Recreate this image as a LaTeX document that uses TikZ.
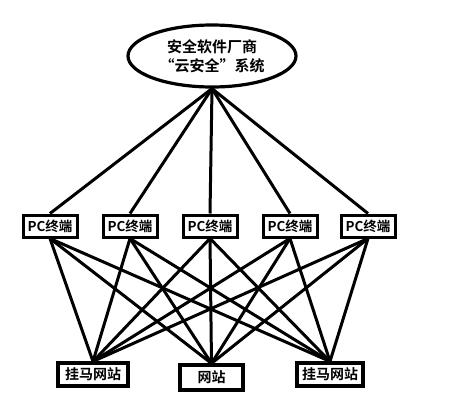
\documentclass[tikz,border=0pt]{standalone}
\usepackage{fontspec}
\newfontfamily\cjk{Noto Sans CJK SC}[BoldFont={Noto Sans CJK SC Bold}]
\usetikzlibrary{shapes.geometric}
\begin{document}
\begin{tikzpicture}[x=1pt,y=-1pt,
  conn/.style={line width=3pt},
  cloud/.style={ellipse,draw,line width=3.2pt,minimum width=168pt,minimum height=62pt,inner sep=0pt,align=center,font=\cjk\bfseries\fontsize{15pt}{19pt}\selectfont},
  pcbox/.style={rectangle,draw,line width=3pt,minimum width=54pt,minimum height=22pt,inner sep=0pt,font=\cjk\bfseries\fontsize{13.5pt}{15pt}\selectfont},
  sitebox/.style={rectangle,draw,line width=3.2pt,minimum height=23pt,inner sep=0pt,font=\cjk\bfseries\fontsize{14pt}{16pt}\selectfont}]
\useasboundingbox[fill=white] (0,0) rectangle (450,400);
\node[cloud] (e) at (212,56) {安全软件厂商\\“云安全”系统};
\node[pcbox] (p1) at (50,226) {PC终端};
\node[pcbox] (p2) at (130,226) {PC终端};
\node[pcbox] (p3) at (210,226) {PC终端};
\node[pcbox] (p4) at (290,226) {PC终端};
\node[pcbox] (p5) at (368,226) {PC终端};
\node[sitebox,minimum width=70pt] (s1) at (93,374.5) {挂马网站};
\node[sitebox,minimum width=63pt,minimum height=25pt] (s2) at (211.5,377.5) {网站};
\node[sitebox,minimum width=66pt] (s3) at (330,374.5) {挂马网站};
\foreach \p in {p1,p2,p3,p4,p5}{
  \draw[conn] (e.south) -- (\p.north);
  \foreach \s in {s1,s2,s3}{
    \draw[conn] (\p.south) -- (\s.north);
  }
}
\end{tikzpicture}
\end{document}
